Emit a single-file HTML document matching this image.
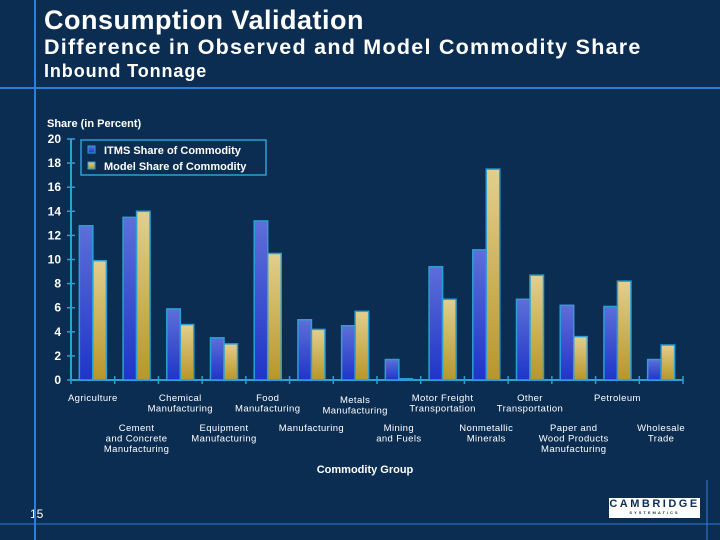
<!DOCTYPE html>
<html><head><meta charset="utf-8"><style>
body{margin:0;background:#0c2d52;}
#wrap{position:relative;width:720px;height:540px;overflow:hidden;background:#0c2d52;font-family:"Liberation Sans",sans-serif;color:#fff;}
.t{position:absolute;white-space:nowrap;}
</style></head><body>
<div id="wrap">
<div class="t" style="left:44px;top:5px;font-size:27px;font-weight:bold;letter-spacing:0.5px;">Consumption Validation</div>
<div class="t" style="left:44px;top:35px;font-size:21.5px;font-weight:bold;letter-spacing:1.25px;">Difference in Observed and Model Commodity Share</div>
<div class="t" style="left:44px;top:61px;font-size:18px;font-weight:bold;letter-spacing:0.9px;">Inbound Tonnage</div>
<div class="t" style="left:30px;top:507px;font-size:12px;">15</div>
<div style="position:absolute;left:609px;top:498px;width:91px;height:20px;background:#fff;color:#0c2d52;text-align:center;">
<div style="font-size:11px;font-weight:bold;letter-spacing:2.5px;line-height:12px;">CAMBRIDGE</div>
<div style="font-size:4px;font-weight:bold;letter-spacing:2px;line-height:6px;">SYSTEMATICS</div></div>
<svg id="chart" width="720" height="540" style="position:absolute;left:0;top:0"></svg>
</div>
<script>
const categories=["Agriculture","Cement and Concrete Manufacturing","Chemical Manufacturing","Equipment Manufacturing","Food Manufacturing","Manufacturing","Metals Manufacturing","Mining and Fuels","Motor Freight Transportation","Nonmetallic Minerals","Other Transportation","Paper and Wood Products Manufacturing","Petroleum","Wholesale Trade"];
const labelLines=[["Agriculture"],["Cement","and Concrete","Manufacturing"],["Chemical","Manufacturing"],["Equipment","Manufacturing"],["Food","Manufacturing"],["Manufacturing"],["Metals","Manufacturing"],["Mining","and Fuels"],["Motor Freight","Transportation"],["Nonmetallic","Minerals"],["Other","Transportation"],["Paper and","Wood Products","Manufacturing"],["Petroleum"],["Wholesale","Trade"]];
const itmsShare=[12.8,13.5,5.9,3.5,13.2,5.0,4.5,1.7,9.4,10.8,6.7,6.2,6.1,1.7];
const modelShare=[9.9,14.0,4.6,3.0,10.5,4.2,5.7,0.1,6.7,17.5,8.7,3.6,8.2,2.9];
const yTicks=[0,2,4,6,8,10,12,14,16,18,20];

const svg=document.getElementById('chart');
const NS='http://www.w3.org/2000/svg';
const X0=71,X1=683,Y0=380,Y1=139,YMAX=20;
const step=(X1-X0)/categories.length;
const y=v=>Y0-(v/YMAX)*(Y0-Y1);
const x=i=>X0+i*step;
function mk(tag,attrs){const e=document.createElementNS(NS,tag);for(const k in attrs)e.setAttribute(k,attrs[k]);svg.appendChild(e);return e;}
function txt(s,attrs){const e=mk('text',attrs);e.textContent=s;return e;}

const defs=mk('defs',{});
defs.innerHTML='<linearGradient id="gb" x1="0" y1="0" x2="0" y2="1"><stop offset="0" stop-color="#5d6fd8"/><stop offset="1" stop-color="#1f35c8"/></linearGradient><linearGradient id="gy" x1="0" y1="0" x2="0" y2="1"><stop offset="0" stop-color="#e2cf8e"/><stop offset="1" stop-color="#b8962a"/></linearGradient>';

let l=mk('line',{x1:35,y1:0,x2:35,y2:540,stroke:'#2b7fd6','stroke-width':2});

l=mk('line',{x1:0,y1:88,x2:720,y2:88,stroke:'#2b7fd6','stroke-width':2});

l=mk('line',{x1:0,y1:524,x2:720,y2:524,stroke:'#2b7fd6','stroke-width':1});

l=mk('line',{x1:707,y1:480,x2:707,y2:540,stroke:'#2b7fd6','stroke-width':1});


let t=txt('Share (in Percent)',{x:47,y:127,fill:'#fff','font-size':11,'font-weight':'bold'});

l=mk('line',{x1:X0,y1:Y1,x2:X0,y2:Y0,stroke:'#2aa0d4','stroke-width':2});

yTicks.forEach(v=>{
  const tk=mk('line',{x1:X0-4,y1:y(v),x2:X0+4,y2:y(v),stroke:'#2aa0d4','stroke-width':1.5});
  
  const tl=txt(v,{x:61,y:y(v)+4,fill:'#fff','font-size':12,'font-weight':'bold','text-anchor':'end'});
  
});
l=mk('line',{x1:X0,y1:Y0,x2:X1,y2:Y0,stroke:'#2aa0d4','stroke-width':2});

for(let i=0;i<=categories.length;i++){
  const tk=mk('line',{x1:x(i),y1:Y0-4,x2:x(i),y2:Y0+4,stroke:'#2aa0d4','stroke-width':1.5});
  
}
const bw=13.5;
categories.forEach((c,i)=>{
  const cx=x(i)+step/2;
  const b1=mk('rect',{x:cx-bw,y:y(itmsShare[i]),width:bw,height:Y0-y(itmsShare[i]),fill:'url(#gb)',stroke:'#2aa0d4','stroke-width':1.5});
  
  const b2=mk('rect',{x:cx,y:y(modelShare[i]),width:bw,height:Y0-y(modelShare[i]),fill:'url(#gy)',stroke:'#2aa0d4','stroke-width':1.5});
  
  const row=i%2===0?0:1;
  const lines=labelLines[i];
  const top=row===0?(i===6?403:401):431;
  lines.forEach((s,j)=>{
    const lt=txt(s,{x:cx,y:top+j*10.5,fill:'#fff','font-size':9.5,'text-anchor':'middle','letter-spacing':0.4});
    
  });
});
t=txt('Commodity Group',{x:365,y:473,fill:'#fff','font-size':11,'font-weight':'bold','text-anchor':'middle'});


const lg=mk('rect',{x:81,y:140,width:185,height:35,fill:'none',stroke:'#2aa0d4','stroke-width':1.5});

let s=mk('rect',{x:88,y:146,width:7,height:7,fill:'url(#gb)',stroke:'#2aa0d4','stroke-width':1});

t=txt('ITMS Share of Commodity',{x:104,y:154,fill:'#fff','font-size':11,'font-weight':'bold'});

s=mk('rect',{x:88,y:162,width:7,height:7,fill:'url(#gy)',stroke:'#2aa0d4','stroke-width':1});

t=txt('Model Share of Commodity',{x:104,y:170,fill:'#fff','font-size':11,'font-weight':'bold'});

</script>
</body></html>
